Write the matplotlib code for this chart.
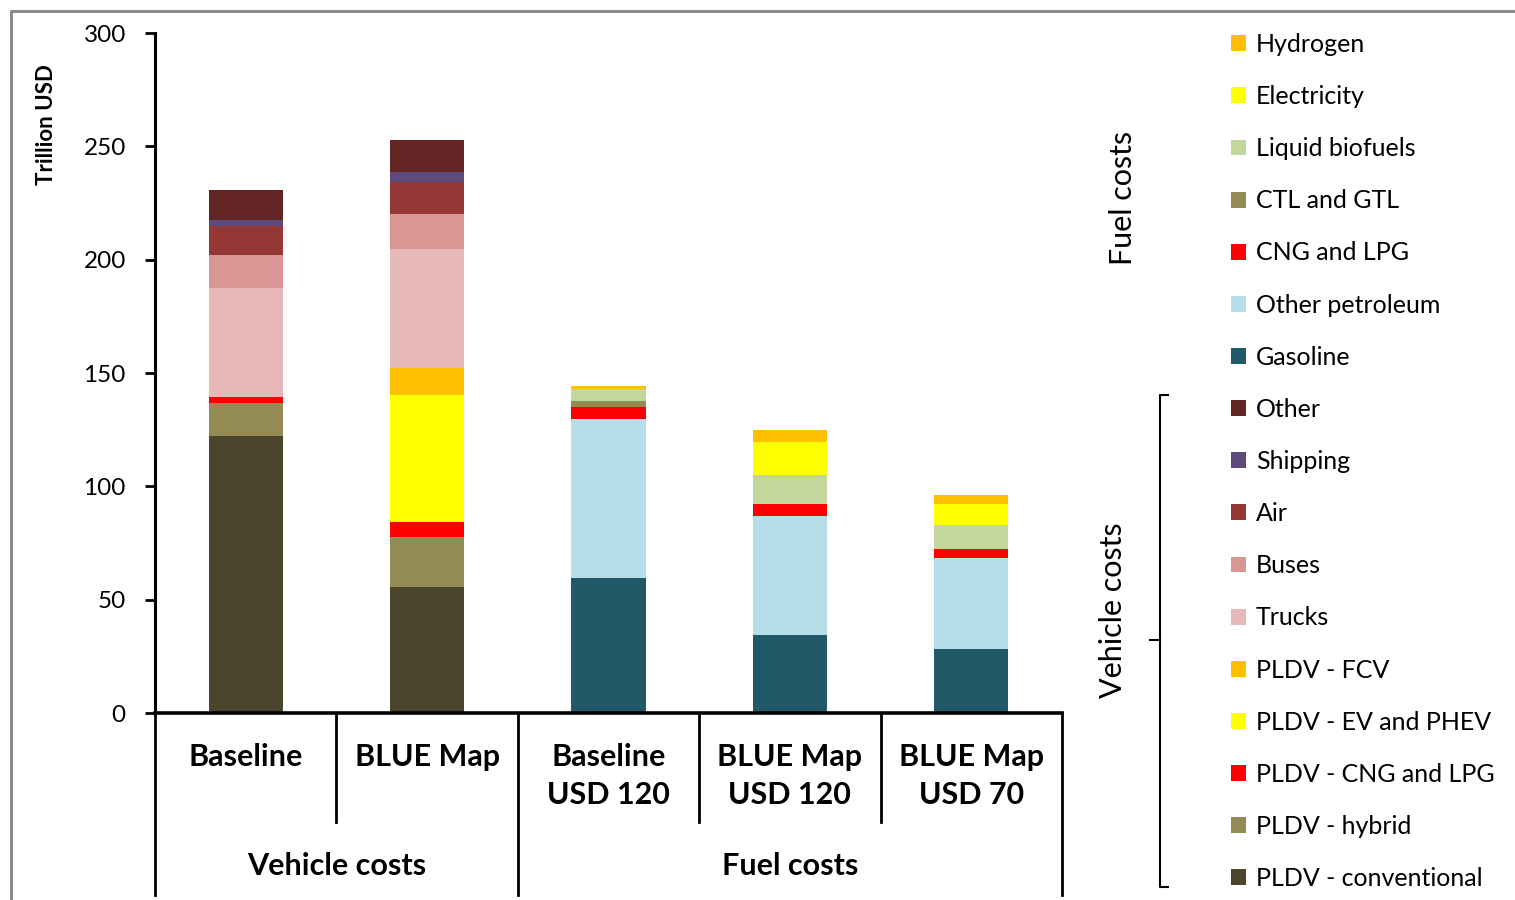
import numpy as np
import matplotlib.pyplot as plt
from matplotlib.patches import Patch
from matplotlib.lines import Line2D

plt.rcParams['font.family'] = ['Lato', 'DejaVu Sans']

# ============================================================
# Data (trillion USD)
# ============================================================
bar_labels = ["Baseline", "BLUE Map", "Baseline\nUSD 120", "BLUE Map\nUSD 120", "BLUE Map\nUSD 70"]
group_labels = ["Vehicle costs", "Fuel costs"]

# vehicle cost components (only the first two bars)
pldv_conventional = [122.0, 55.4, 0, 0, 0]
pldv_hybrid       = [14.7, 22.4, 0, 0, 0]
pldv_cng_lpg      = [2.5, 6.5, 0, 0, 0]
pldv_ev_phev      = [0.0, 56.1, 0, 0, 0]
pldv_fcv          = [0.0, 11.9, 0, 0, 0]
trucks            = [48.5, 52.2, 0, 0, 0]
buses             = [14.3, 15.6, 0, 0, 0]
air               = [12.8, 14.3, 0, 0, 0]
shipping          = [2.8, 4.1, 0, 0, 0]
other             = [13.0, 14.3, 0, 0, 0]

# fuel cost components (last three bars)
gasoline          = [0, 0, 59.4, 34.4, 28.1]
other_petroleum   = [0, 0, 70.4, 52.5, 40.4]
cng_lpg           = [0, 0, 5.3, 5.2, 4.0]
ctl_gtl           = [0, 0, 2.5, 0.0, 0.0]
liquid_biofuels   = [0, 0, 5.3, 13.1, 10.4]
electricity       = [0, 0, 0.0, 14.5, 9.3]
hydrogen          = [0, 0, 1.5, 5.0, 3.8]

series = [
    ("PLDV - conventional", pldv_conventional, "#4b452d"),
    ("PLDV - hybrid",       pldv_hybrid,       "#948a54"),
    ("PLDV - CNG and LPG",  pldv_cng_lpg,      "#ff0000"),
    ("PLDV - EV and PHEV",  pldv_ev_phev,      "#ffff00"),
    ("PLDV - FCV",          pldv_fcv,          "#ffc000"),
    ("Trucks",              trucks,            "#e6b9b8"),
    ("Buses",               buses,             "#d99694"),
    ("Air",                 air,               "#953735"),
    ("Shipping",            shipping,          "#604a7b"),
    ("Other",               other,             "#632523"),
    ("Gasoline",            gasoline,          "#215968"),
    ("Other petroleum",     other_petroleum,   "#b7dee8"),
    ("CNG and LPG",         cng_lpg,           "#ff0000"),
    ("CTL and GTL",         ctl_gtl,           "#948a54"),
    ("Liquid biofuels",     liquid_biofuels,   "#c3d69b"),
    ("Electricity",         electricity,       "#ffff00"),
    ("Hydrogen",            hydrogen,          "#ffc000"),
]

# ============================================================
# Figure
# ============================================================
fig = plt.figure(figsize=(15.15, 9.0), dpi=100)
ax = fig.add_axes([155/1515, 1 - 713/900, (1062-155)/1515, (713-33)/900])

x = np.arange(len(bar_labels))
bottom = np.zeros(len(x))
handles = []
for name, vals, col in series:
    vals = np.array(vals, dtype=float)
    ax.bar(x, vals, width=0.41, bottom=bottom, color=col, edgecolor='none')
    bottom += vals
    handles.append(Patch(facecolor=col, label=name))

ax.set_xlim(-0.5, 4.5)
ax.set_ylim(0, 300)
ax.set_yticks(np.arange(0, 301, 50))
ax.set_xticks([])
for s in ['top', 'right']:
    ax.spines[s].set_visible(False)
ax.spines['left'].set_linewidth(2.2)
ax.spines['bottom'].set_linewidth(2.6)
ax.tick_params(axis='y', length=7, width=2, labelsize=17.5, pad=14)
ax.set_ylabel("Trillion USD", fontsize=16, fontweight='bold')
ax.yaxis.set_label_coords(-0.108, 0.865)

# category table below the axis
trans = ax.get_xaxis_transform()
for xd, ybot in [(-0.5, -0.268), (0.5, -0.160), (1.5, -0.268), (2.5, -0.160), (3.5, -0.160), (4.5, -0.268)]:
    ax.add_line(Line2D([xd, xd], [0, ybot], transform=trans, color='black', lw=2, clip_on=False))
for xi, lab in zip(x, bar_labels):
    ax.text(xi, -0.044, lab, transform=trans, ha='center', va='top', fontsize=22,
            fontweight='bold', linespacing=1.42)
ax.text(0.5, -0.225, group_labels[0], transform=trans, ha='center', va='center', fontsize=22, fontweight='bold')
ax.text(3.0, -0.225, group_labels[1], transform=trans, ha='center', va='center', fontsize=22, fontweight='bold')

# legend (top to bottom reversed)
fig.legend(handles=handles[::-1], loc='upper left', bbox_to_anchor=(1221/1515, 1 - 23/900),
           frameon=False, fontsize=18, handlelength=0.6, handleheight=0.6, handletextpad=0.4,
           labelspacing=1.165, borderaxespad=0)

# side annotations
fig.text(1123/1515, 1 - 198/900, "Fuel costs", rotation=90, ha='center', va='center', fontsize=22)
fig.text(1113/1515, 1 - 610/900, "Vehicle costs", rotation=90, ha='center', va='center', fontsize=22)
bx = 1160/1515
y_top, y_bot, y_mid = 1 - 395/900, 1 - 887/900, 1 - 640/900
fig.add_artist(Line2D([bx + 8/1515, bx, bx, bx + 8/1515], [y_top, y_top, y_bot, y_bot], color='black', lw=1.5))
fig.add_artist(Line2D([bx, bx - 10/1515], [y_mid, y_mid], color='black', lw=1.5))

# outer frame
fig.add_artist(Line2D([11/1515, 11/1515, 1.0], [0.0, 1 - 11/900, 1 - 11/900], color='#8c8c8c', lw=2.2))

fig.savefig("out.png", dpi=100)
